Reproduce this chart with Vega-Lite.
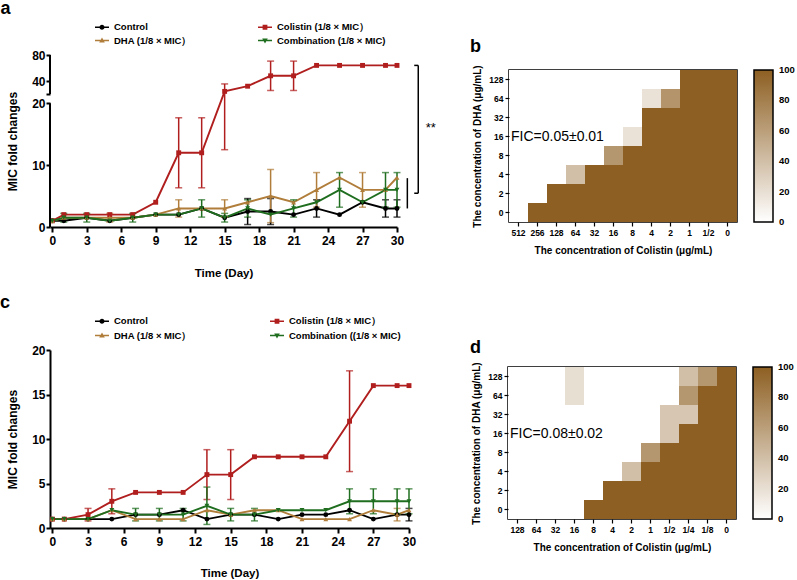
{
"$schema":"https://vega.github.io/schema/vega-lite/v6.json",
"background":"white",
"padding":{"left":0,"top":0,"right":0,"bottom":0},
"spacing":15,
"config":{
 "font":"Liberation Sans",
 "view":{"stroke":null},
 "axis":{"labelFontWeight":"bold","titleFontWeight":"bold","labelColor":"black","titleColor":"black","tickColor":"black","domainColor":"black","grid":false},
 "legend":{"labelColor":"black"},
 "title":{"fontWeight":"bold","fontSize":18,"anchor":"start","frame":"group","color":"black"}
},
"resolve":{"scale":{"color":"independent","x":"independent","y":"independent"},"legend":{"color":"independent"}},
"datasets":{
 "A":[
  {"day":0,"s":"Control","v":1,"e":0},{"day":1,"s":"Control","v":1,"e":0},{"day":3,"s":"Control","v":1.5,"e":0},{"day":5,"s":"Control","v":1,"e":0},{"day":7,"s":"Control","v":1.5,"e":0},{"day":9,"s":"Control","v":2,"e":0},{"day":11,"s":"Control","v":2,"e":0},{"day":13,"s":"Control","v":3,"e":0},{"day":15,"s":"Control","v":1.5,"e":0},{"day":17,"s":"Control","v":2.5,"e":2.1},{"day":19,"s":"Control","v":2.5,"e":2.1},{"day":21,"s":"Control","v":2,"e":0},{"day":23,"s":"Control","v":3,"e":1.4},{"day":25,"s":"Control","v":2,"e":0},{"day":27,"s":"Control","v":4,"e":0},{"day":29,"s":"Control","v":3,"e":1.4},{"day":30,"s":"Control","v":3,"e":1.4},
  {"day":0,"s":"DHA","v":1,"e":0},{"day":1,"s":"DHA","v":1.5,"e":0},{"day":3,"s":"DHA","v":1.5,"e":0},{"day":5,"s":"DHA","v":1.5,"e":0.7},{"day":7,"s":"DHA","v":1.5,"e":0},{"day":9,"s":"DHA","v":2,"e":0},{"day":11,"s":"DHA","v":3,"e":1.4},{"day":13,"s":"DHA","v":3,"e":0},{"day":15,"s":"DHA","v":3,"e":1.4},{"day":17,"s":"DHA","v":4,"e":0},{"day":19,"s":"DHA","v":5,"e":4.3},{"day":21,"s":"DHA","v":4,"e":0},{"day":23,"s":"DHA","v":6,"e":2.8},{"day":25,"s":"DHA","v":8,"e":0},{"day":27,"s":"DHA","v":6,"e":2.8},{"day":29,"s":"DHA","v":6,"e":0},{"day":30,"s":"DHA","v":8,"e":0},
  {"day":0,"s":"Colistin","v":1,"e":0},{"day":1,"s":"Colistin","v":2,"e":0},{"day":3,"s":"Colistin","v":2,"e":0},{"day":5,"s":"Colistin","v":2,"e":0},{"day":7,"s":"Colistin","v":2,"e":0},{"day":9,"s":"Colistin","v":4,"e":0},{"day":11,"s":"Colistin","v":12,"e":5.66},{"day":13,"s":"Colistin","v":12,"e":5.66},{"day":15,"s":"Colistin","v":24,"e":11.5},{"day":17,"s":"Colistin","v":32,"e":0},{"day":19,"s":"Colistin","v":48,"e":22.6},{"day":21,"s":"Colistin","v":48,"e":22.6},{"day":23,"s":"Colistin","v":64,"e":0},{"day":25,"s":"Colistin","v":64,"e":0},{"day":27,"s":"Colistin","v":64,"e":0},{"day":29,"s":"Colistin","v":64,"e":0},{"day":30,"s":"Colistin","v":64,"e":0},
  {"day":0,"s":"Combination","v":1,"e":0},{"day":1,"s":"Combination","v":1.5,"e":0.7},{"day":3,"s":"Combination","v":1.5,"e":0.7},{"day":5,"s":"Combination","v":1,"e":0},{"day":7,"s":"Combination","v":1.5,"e":0.7},{"day":9,"s":"Combination","v":2,"e":0},{"day":11,"s":"Combination","v":2,"e":0},{"day":13,"s":"Combination","v":3,"e":1.4},{"day":15,"s":"Combination","v":1.5,"e":0.7},{"day":17,"s":"Combination","v":3,"e":1.4},{"day":19,"s":"Combination","v":2,"e":0},{"day":21,"s":"Combination","v":3,"e":1.4},{"day":23,"s":"Combination","v":4,"e":0},{"day":25,"s":"Combination","v":6,"e":2.8},{"day":27,"s":"Combination","v":4,"e":0},{"day":29,"s":"Combination","v":6,"e":2.8},{"day":30,"s":"Combination","v":6,"e":2.8}
 ],
 "C":[
  {"day":0,"s":"Control","v":1,"e":0},{"day":1,"s":"Control","v":1,"e":0},{"day":3,"s":"Control","v":1,"e":0},{"day":5,"s":"Control","v":1,"e":0},{"day":7,"s":"Control","v":1.5,"e":0},{"day":9,"s":"Control","v":1.5,"e":0},{"day":11,"s":"Control","v":2,"e":0},{"day":13,"s":"Control","v":1,"e":0},{"day":15,"s":"Control","v":1.5,"e":0},{"day":17,"s":"Control","v":1.5,"e":0},{"day":19,"s":"Control","v":1,"e":0},{"day":21,"s":"Control","v":1.5,"e":0},{"day":23,"s":"Control","v":1.5,"e":0},{"day":25,"s":"Control","v":2,"e":0},{"day":27,"s":"Control","v":1,"e":0},{"day":29,"s":"Control","v":1.5,"e":0},{"day":30,"s":"Control","v":1.5,"e":0.7},
  {"day":0,"s":"DHA","v":1,"e":0},{"day":1,"s":"DHA","v":1,"e":0},{"day":3,"s":"DHA","v":1,"e":0},{"day":5,"s":"DHA","v":2,"e":0},{"day":7,"s":"DHA","v":1,"e":0},{"day":9,"s":"DHA","v":1,"e":0},{"day":11,"s":"DHA","v":1,"e":0},{"day":13,"s":"DHA","v":2,"e":0},{"day":15,"s":"DHA","v":1.5,"e":0},{"day":17,"s":"DHA","v":2,"e":0},{"day":19,"s":"DHA","v":2,"e":0},{"day":21,"s":"DHA","v":1,"e":0},{"day":23,"s":"DHA","v":1,"e":0},{"day":25,"s":"DHA","v":1,"e":0},{"day":27,"s":"DHA","v":2,"e":0},{"day":29,"s":"DHA","v":1.5,"e":0.7},{"day":30,"s":"DHA","v":2,"e":0},
  {"day":0,"s":"Colistin","v":1,"e":0},{"day":1,"s":"Colistin","v":1,"e":0},{"day":3,"s":"Colistin","v":1.5,"e":0.7},{"day":5,"s":"Colistin","v":3,"e":1.4},{"day":7,"s":"Colistin","v":4,"e":0},{"day":9,"s":"Colistin","v":4,"e":0},{"day":11,"s":"Colistin","v":4,"e":0},{"day":13,"s":"Colistin","v":6,"e":2.8},{"day":15,"s":"Colistin","v":6,"e":2.8},{"day":17,"s":"Colistin","v":8,"e":0},{"day":19,"s":"Colistin","v":8,"e":0},{"day":21,"s":"Colistin","v":8,"e":0},{"day":23,"s":"Colistin","v":8,"e":0},{"day":25,"s":"Colistin","v":12,"e":5.66},{"day":27,"s":"Colistin","v":16,"e":0},{"day":29,"s":"Colistin","v":16,"e":0},{"day":30,"s":"Colistin","v":16,"e":0},
  {"day":0,"s":"Combination","v":1,"e":0},{"day":1,"s":"Combination","v":1,"e":0},{"day":3,"s":"Combination","v":1,"e":0},{"day":5,"s":"Combination","v":2,"e":0},{"day":7,"s":"Combination","v":1.5,"e":0.7},{"day":9,"s":"Combination","v":1.5,"e":0.7},{"day":11,"s":"Combination","v":1.5,"e":0.7},{"day":13,"s":"Combination","v":2.5,"e":2.1},{"day":15,"s":"Combination","v":1.5,"e":0.7},{"day":17,"s":"Combination","v":1.5,"e":0.7},{"day":19,"s":"Combination","v":2,"e":0},{"day":21,"s":"Combination","v":2,"e":0},{"day":23,"s":"Combination","v":2,"e":0},{"day":25,"s":"Combination","v":3,"e":1.4},{"day":27,"s":"Combination","v":3,"e":1.4},{"day":29,"s":"Combination","v":3,"e":1.4},{"day":30,"s":"Combination","v":3,"e":1.4}
 ],
 "Aaxis":[{"day":-0.2,"v":0,"v2":20},{"day":-0.2,"v":20.001,"v2":80}],
 "Abrv":[{"day":31.85,"v":5.46,"v2":64},{"day":30.9,"v":3.0,"v2":7.9}],
 "Abrh":[{"day":31.5,"day2":31.85,"v":64},{"day":31.5,"day2":31.85,"v":5.46}],
 "Astar":[{"day":32.5,"v":16.0,"t":"**"}],
 "B":[
  {"c":"512","r":"128","val":0},{"c":"256","r":"128","val":0},{"c":"128","r":"128","val":0},{"c":"64","r":"128","val":0},{"c":"32","r":"128","val":0},{"c":"16","r":"128","val":0},{"c":"8","r":"128","val":0},{"c":"4","r":"128","val":0},{"c":"2","r":"128","val":0},{"c":"1","r":"128","val":100},{"c":"1/2","r":"128","val":100},{"c":"0","r":"128","val":100},
  {"c":"512","r":"64","val":0},{"c":"256","r":"64","val":0},{"c":"128","r":"64","val":0},{"c":"64","r":"64","val":0},{"c":"32","r":"64","val":0},{"c":"16","r":"64","val":0},{"c":"8","r":"64","val":0},{"c":"4","r":"64","val":18},{"c":"2","r":"64","val":67},{"c":"1","r":"64","val":100},{"c":"1/2","r":"64","val":100},{"c":"0","r":"64","val":100},
  {"c":"512","r":"32","val":0},{"c":"256","r":"32","val":0},{"c":"128","r":"32","val":0},{"c":"64","r":"32","val":0},{"c":"32","r":"32","val":0},{"c":"16","r":"32","val":0},{"c":"8","r":"32","val":0},{"c":"4","r":"32","val":100},{"c":"2","r":"32","val":100},{"c":"1","r":"32","val":100},{"c":"1/2","r":"32","val":100},{"c":"0","r":"32","val":100},
  {"c":"512","r":"16","val":0},{"c":"256","r":"16","val":0},{"c":"128","r":"16","val":0},{"c":"64","r":"16","val":0},{"c":"32","r":"16","val":0},{"c":"16","r":"16","val":0},{"c":"8","r":"16","val":18},{"c":"4","r":"16","val":100},{"c":"2","r":"16","val":100},{"c":"1","r":"16","val":100},{"c":"1/2","r":"16","val":100},{"c":"0","r":"16","val":100},
  {"c":"512","r":"8","val":0},{"c":"256","r":"8","val":0},{"c":"128","r":"8","val":0},{"c":"64","r":"8","val":0},{"c":"32","r":"8","val":0},{"c":"16","r":"8","val":65},{"c":"8","r":"8","val":100},{"c":"4","r":"8","val":100},{"c":"2","r":"8","val":100},{"c":"1","r":"8","val":100},{"c":"1/2","r":"8","val":100},{"c":"0","r":"8","val":100},
  {"c":"512","r":"4","val":0},{"c":"256","r":"4","val":0},{"c":"128","r":"4","val":0},{"c":"64","r":"4","val":40},{"c":"32","r":"4","val":100},{"c":"16","r":"4","val":100},{"c":"8","r":"4","val":100},{"c":"4","r":"4","val":100},{"c":"2","r":"4","val":100},{"c":"1","r":"4","val":100},{"c":"1/2","r":"4","val":100},{"c":"0","r":"4","val":100},
  {"c":"512","r":"2","val":0},{"c":"256","r":"2","val":0},{"c":"128","r":"2","val":100},{"c":"64","r":"2","val":100},{"c":"32","r":"2","val":100},{"c":"16","r":"2","val":100},{"c":"8","r":"2","val":100},{"c":"4","r":"2","val":100},{"c":"2","r":"2","val":100},{"c":"1","r":"2","val":100},{"c":"1/2","r":"2","val":100},{"c":"0","r":"2","val":100},
  {"c":"512","r":"0","val":0},{"c":"256","r":"0","val":100},{"c":"128","r":"0","val":100},{"c":"64","r":"0","val":100},{"c":"32","r":"0","val":100},{"c":"16","r":"0","val":100},{"c":"8","r":"0","val":100},{"c":"4","r":"0","val":100},{"c":"2","r":"0","val":100},{"c":"1","r":"0","val":100},{"c":"1/2","r":"0","val":100},{"c":"0","r":"0","val":100}
 ],
 "D":[
  {"c":"128","r":"128","val":0},{"c":"64","r":"128","val":0},{"c":"32","r":"128","val":0},{"c":"16","r":"128","val":20},{"c":"8","r":"128","val":0},{"c":"4","r":"128","val":0},{"c":"2","r":"128","val":0},{"c":"1","r":"128","val":0},{"c":"1/2","r":"128","val":0},{"c":"1/4","r":"128","val":40},{"c":"1/8","r":"128","val":65},{"c":"0","r":"128","val":100},
  {"c":"128","r":"64","val":0},{"c":"64","r":"64","val":0},{"c":"32","r":"64","val":0},{"c":"16","r":"64","val":20},{"c":"8","r":"64","val":0},{"c":"4","r":"64","val":0},{"c":"2","r":"64","val":0},{"c":"1","r":"64","val":0},{"c":"1/2","r":"64","val":0},{"c":"1/4","r":"64","val":65},{"c":"1/8","r":"64","val":100},{"c":"0","r":"64","val":100},
  {"c":"128","r":"32","val":0},{"c":"64","r":"32","val":0},{"c":"32","r":"32","val":0},{"c":"16","r":"32","val":0},{"c":"8","r":"32","val":0},{"c":"4","r":"32","val":0},{"c":"2","r":"32","val":0},{"c":"1","r":"32","val":0},{"c":"1/2","r":"32","val":35},{"c":"1/4","r":"32","val":35},{"c":"1/8","r":"32","val":100},{"c":"0","r":"32","val":100},
  {"c":"128","r":"16","val":0},{"c":"64","r":"16","val":0},{"c":"32","r":"16","val":0},{"c":"16","r":"16","val":0},{"c":"8","r":"16","val":0},{"c":"4","r":"16","val":0},{"c":"2","r":"16","val":0},{"c":"1","r":"16","val":0},{"c":"1/2","r":"16","val":35},{"c":"1/4","r":"16","val":100},{"c":"1/8","r":"16","val":100},{"c":"0","r":"16","val":100},
  {"c":"128","r":"8","val":0},{"c":"64","r":"8","val":0},{"c":"32","r":"8","val":0},{"c":"16","r":"8","val":0},{"c":"8","r":"8","val":0},{"c":"4","r":"8","val":0},{"c":"2","r":"8","val":0},{"c":"1","r":"8","val":65},{"c":"1/2","r":"8","val":100},{"c":"1/4","r":"8","val":100},{"c":"1/8","r":"8","val":100},{"c":"0","r":"8","val":100},
  {"c":"128","r":"4","val":0},{"c":"64","r":"4","val":0},{"c":"32","r":"4","val":0},{"c":"16","r":"4","val":0},{"c":"8","r":"4","val":0},{"c":"4","r":"4","val":0},{"c":"2","r":"4","val":40},{"c":"1","r":"4","val":100},{"c":"1/2","r":"4","val":100},{"c":"1/4","r":"4","val":100},{"c":"1/8","r":"4","val":100},{"c":"0","r":"4","val":100},
  {"c":"128","r":"2","val":0},{"c":"64","r":"2","val":0},{"c":"32","r":"2","val":0},{"c":"16","r":"2","val":0},{"c":"8","r":"2","val":0},{"c":"4","r":"2","val":100},{"c":"2","r":"2","val":100},{"c":"1","r":"2","val":100},{"c":"1/2","r":"2","val":100},{"c":"1/4","r":"2","val":100},{"c":"1/8","r":"2","val":100},{"c":"0","r":"2","val":100},
  {"c":"128","r":"0","val":0},{"c":"64","r":"0","val":0},{"c":"32","r":"0","val":0},{"c":"16","r":"0","val":0},{"c":"8","r":"0","val":100},{"c":"4","r":"0","val":100},{"c":"2","r":"0","val":100},{"c":"1","r":"0","val":100},{"c":"1/2","r":"0","val":100},{"c":"1/4","r":"0","val":100},{"c":"1/8","r":"0","val":100},{"c":"0","r":"0","val":100}
 ]
},
"vconcat":[
 {
  "hconcat":[
   {
    "title":{"text":"a","dx":-49.5,"offset":2},
    "width":347,"height":182,
    "encoding":{
     "x":{"field":"day","type":"quantitative","scale":{"domain":[-0.2,30],"nice":false,"zero":false},"axis":{"values":[0,3,6,9,12,15,18,21,24,27,30],"offset":-10,"title":"Time (Day)","titleFontSize":11.5,"labelFontSize":12,"tickSize":5,"tickWidth":2,"domainWidth":2,"labelPadding":3,"titlePadding":21,"labelFlush":false,"labelAngle":0}},
     "y":{"field":"v","type":"quantitative","scale":{"domain":[0,20,20.001,80],"range":[172,48.3,39,0],"nice":false,"zero":false},"axis":{"values":[0,10,20,20.001,40,80],"labelExpr":"datum.value > 20 && datum.value < 21 ? '' : datum.label","title":"MIC fold changes","titleFontSize":12,"labelFontSize":12,"tickSize":4,"tickWidth":2,"labelPadding":1,"titlePadding":12,"domain":false}}
    },
    "layer":[
     {"data":{"name":"A"},"mark":{"type":"line","strokeWidth":1.9},
      "encoding":{"color":{"field":"s","type":"nominal","scale":{"domain":["Control","Colistin","DHA","Combination"],"range":["#000000","#b01e1e","#b07d3a","#1f6e1f"]},
       "legend":{"orient":"none","direction":"horizontal","legendX":45,"legendY":-35,"columns":2,"columnPadding":66,"rowPadding":1.5,"title":null,"symbolSize":196,"labelFontSize":9.5,"labelFontWeight":"bold","labelOffset":5,"labelLimit":300,"padding":0,
        "labelExpr":"datum.value === 'Colistin' ? 'Colistin (1/8 × MIC）' : datum.value === 'DHA' ? 'DHA (1/8 × MIC）' : datum.value === 'Combination' ? 'Combination (1/8 × MIC)' : datum.label",
        "encode":{"symbols":{"update":{
         "shape":{"signal":"datum.value === 'Control' ? 'M-1,-0.12H1V0.12H-1Z M0.36,0A0.36,0.36 0 1,1 -0.36,0A0.36,0.36 0 1,1 0.36,0Z' : datum.value === 'Colistin' ? 'M-1,-0.12H1V0.12H-1Z M-0.34,-0.34H0.34V0.34H-0.34Z' : datum.value === 'DHA' ? 'M-1,-0.12H1V0.12H-1Z M0,-0.42L0.4,0.3L-0.4,0.3Z' : 'M-1,-0.12H1V0.12H-1Z M0,0.42L-0.4,-0.3L0.4,-0.3Z'"},
         "fill":{"signal":"datum.value === 'Control' ? '#000000' : datum.value === 'Colistin' ? '#b01e1e' : datum.value === 'DHA' ? '#b07d3a' : '#1f6e1f'"},
         "stroke":{"value":"transparent"},"strokeWidth":{"value":0},"opacity":{"value":1}}}}}}}},
     {"data":{"name":"A"},"transform":[{"filter":"datum.e > 0"}],"mark":{"type":"errorbar","ticks":{"size":7},"thickness":1.5},
      "encoding":{"yError":{"field":"e"},"color":{"field":"s","type":"nominal","scale":{"domain":["Control","Colistin","DHA","Combination"],"range":["#000000","#b01e1e","#b07d3a","#1f6e1f"]}}}},
     {"data":{"name":"A"},"transform":[{"filter":"datum.s === 'Control'"}],"mark":{"type":"point","shape":"circle","filled":true,"size":24,"opacity":1,"strokeWidth":0,"color":"#000000"}},
     {"data":{"name":"A"},"transform":[{"filter":"datum.s === 'Colistin'"}],"mark":{"type":"point","shape":"square","filled":true,"size":24,"opacity":1,"strokeWidth":0,"color":"#b01e1e"}},
     {"data":{"name":"A"},"transform":[{"filter":"datum.s === 'DHA'"}],"mark":{"type":"point","shape":"triangle-up","filled":true,"size":24,"opacity":1,"strokeWidth":0,"color":"#b07d3a"}},
     {"data":{"name":"A"},"transform":[{"filter":"datum.s === 'Combination'"}],"mark":{"type":"point","shape":"triangle-down","filled":true,"size":24,"opacity":1,"strokeWidth":0,"color":"#1f6e1f"}},
     {"data":{"name":"Aaxis"},"mark":{"type":"rule","color":"black","strokeWidth":2},"encoding":{"y2":{"field":"v2"}}},
     {"data":{"name":"Abrv"},"mark":{"type":"rule","color":"black","strokeWidth":1.5},"encoding":{"y2":{"field":"v2"}}},
     {"data":{"name":"Abrh"},"mark":{"type":"rule","color":"black","strokeWidth":1.5},"encoding":{"x2":{"field":"day2"}}},
     {"data":{"name":"Astar"},"mark":{"type":"text","fontSize":13,"align":"left","baseline":"middle","color":"black"},"encoding":{"text":{"field":"t"}}}
    ]
   },
   {
    "title":{"text":"b","dx":-39,"offset":9},
    "width":228,"height":152,
    "view":{"stroke":"black","strokeWidth":1.5},
    "encoding":{
     "x":{"field":"c","type":"ordinal","scale":{"domain":["512","256","128","64","32","16","8","4","2","1","1/2","0"],"paddingInner":0,"paddingOuter":0},"axis":{"title":"The concentration of Colistin (μg/mL)","titleFontSize":10,"labelFontSize":8.5,"tickSize":4,"tickWidth":1.2,"domain":false,"labelPadding":2,"titlePadding":8.5,"labelAngle":0}},
     "y":{"field":"r","type":"ordinal","scale":{"domain":["128","64","32","16","8","4","2","0"],"paddingInner":0,"paddingOuter":0},"axis":{"title":"The concentration of DHA (μg/mL)","titleFontSize":10,"labelFontSize":8.5,"tickSize":4,"tickWidth":1.2,"domain":false,"labelPadding":2,"titlePadding":6}}
    },
    "layer":[
     {"data":{"name":"B"},"mark":{"type":"rect"},
      "encoding":{
       "color":{"field":"val","type":"quantitative","scale":{"domain":[0,100],"range":["#ffffff","#8d5f22"],"interpolate":"rgb"},
        "legend":{"type":"gradient","title":null,"orient":"right","offset":17,"direction":"vertical","gradientLength":152,"gradientThickness":19,"gradientStrokeColor":"black","gradientStrokeWidth":1.5,"labelFontSize":9.5,"labelFontWeight":"bold","labelOffset":6,"values":[0,20,40,60,80,100],"padding":0,"encode":{"labels":{"update":{"baseline":{"value":"middle"}}}}}}
      }},
     {"data":{"name":"B"},"mark":{"type":"rect"},
      "encoding":{
       "color":{"field":"val","type":"quantitative","scale":{"domain":[0,100],"range":["#ffffff","#8d5f22"],"interpolate":"rgb"}}
      }},
     {"data":{"values":[{"c":"512","r":"16","t":"FIC=0.05±0.01"}]},"mark":{"type":"text","align":"left","baseline":"middle","fontSize":14,"fontWeight":"normal","dx":2,"color":"black"},
      "encoding":{
       "x":{"field":"c","type":"ordinal","bandPosition":0,"scale":{"domain":["512","256","128","64","32","16","8","4","2","1","1/2","0"],"paddingInner":0,"paddingOuter":0}},
       "text":{"field":"t"}}}
    ]
   }
  ],
  "spacing":112,
  "bounds":"flush",
  "center":true,
  "resolve":{"scale":{"color":"independent","x":"independent","y":"independent"},"legend":{"color":"independent"}}
 },
 {
  "hconcat":[
   {
    "title":{"text":"c","dx":-50,"offset":2},
    "width":359,"height":186,
    "encoding":{
     "x":{"field":"day","type":"quantitative","scale":{"domain":[-0.2,30],"nice":false,"zero":false},"axis":{"values":[0,3,6,9,12,15,18,21,24,27,30],"offset":-8,"title":"Time (Day)","titleFontSize":11.5,"labelFontSize":12,"tickSize":5,"tickWidth":2,"domainWidth":2,"labelPadding":3,"titlePadding":20,"labelFlush":false,"labelAngle":0}},
     "y":{"field":"v","type":"quantitative","scale":{"domain":[0,20],"range":[178,0],"nice":false,"zero":false},"axis":{"values":[0,5,10,15,20],"title":"MIC fold changes","titleFontSize":12,"labelFontSize":12,"tickSize":4,"tickWidth":2,"domainWidth":2,"labelPadding":1,"titlePadding":12}}
    },
    "layer":[
     {"data":{"name":"C"},"mark":{"type":"line","strokeWidth":1.9},
      "encoding":{"color":{"field":"s","type":"nominal","scale":{"domain":["Control","Colistin","DHA","Combination"],"range":["#000000","#b01e1e","#b07d3a","#1f6e1f"]},
       "legend":{"orient":"none","direction":"horizontal","legendX":45,"legendY":-36,"columns":2,"columnPadding":78,"rowPadding":2.5,"title":null,"symbolSize":196,"labelFontSize":9.5,"labelFontWeight":"bold","labelOffset":5,"labelLimit":300,"padding":0,
        "labelExpr":"datum.value === 'Colistin' ? 'Colistin (1/8 × MIC）' : datum.value === 'DHA' ? 'DHA (1/8 × MIC）' : datum.value === 'Combination' ? 'Combination ((1/8 × MIC)' : datum.label",
        "encode":{"symbols":{"update":{
         "shape":{"signal":"datum.value === 'Control' ? 'M-1,-0.12H1V0.12H-1Z M0.36,0A0.36,0.36 0 1,1 -0.36,0A0.36,0.36 0 1,1 0.36,0Z' : datum.value === 'Colistin' ? 'M-1,-0.12H1V0.12H-1Z M-0.34,-0.34H0.34V0.34H-0.34Z' : datum.value === 'DHA' ? 'M-1,-0.12H1V0.12H-1Z M0,-0.42L0.4,0.3L-0.4,0.3Z' : 'M-1,-0.12H1V0.12H-1Z M0,0.42L-0.4,-0.3L0.4,-0.3Z'"},
         "fill":{"signal":"datum.value === 'Control' ? '#000000' : datum.value === 'Colistin' ? '#b01e1e' : datum.value === 'DHA' ? '#b07d3a' : '#1f6e1f'"},
         "stroke":{"value":"transparent"},"strokeWidth":{"value":0},"opacity":{"value":1}}}}}}}},
     {"data":{"name":"C"},"transform":[{"filter":"datum.e > 0"}],"mark":{"type":"errorbar","ticks":{"size":7},"thickness":1.5},
      "encoding":{"yError":{"field":"e"},"color":{"field":"s","type":"nominal","scale":{"domain":["Control","Colistin","DHA","Combination"],"range":["#000000","#b01e1e","#b07d3a","#1f6e1f"]}}}},
     {"data":{"name":"C"},"transform":[{"filter":"datum.s === 'Control'"}],"mark":{"type":"point","shape":"circle","filled":true,"size":24,"opacity":1,"strokeWidth":0,"color":"#000000"}},
     {"data":{"name":"C"},"transform":[{"filter":"datum.s === 'Colistin'"}],"mark":{"type":"point","shape":"square","filled":true,"size":24,"opacity":1,"strokeWidth":0,"color":"#b01e1e"}},
     {"data":{"name":"C"},"transform":[{"filter":"datum.s === 'DHA'"}],"mark":{"type":"point","shape":"triangle-up","filled":true,"size":24,"opacity":1,"strokeWidth":0,"color":"#b07d3a"}},
     {"data":{"name":"C"},"transform":[{"filter":"datum.s === 'Combination'"}],"mark":{"type":"point","shape":"triangle-down","filled":true,"size":24,"opacity":1,"strokeWidth":0,"color":"#1f6e1f"}}
    ]
   },
   {
    "title":{"text":"d","dx":-38,"offset":5},
    "width":228,"height":152,
    "view":{"stroke":"black","strokeWidth":1.5},
    "encoding":{
     "x":{"field":"c","type":"ordinal","scale":{"domain":["128","64","32","16","8","4","2","1","1/2","1/4","1/8","0"],"paddingInner":0,"paddingOuter":0},"axis":{"title":"The concentration of Colistin (μg/mL)","titleFontSize":10,"labelFontSize":8.5,"tickSize":4,"tickWidth":1.2,"domain":false,"labelPadding":2,"titlePadding":8.5,"labelAngle":0}},
     "y":{"field":"r","type":"ordinal","scale":{"domain":["128","64","32","16","8","4","2","0"],"paddingInner":0,"paddingOuter":0},"axis":{"title":"The concentration of DHA (μg/mL)","titleFontSize":10,"labelFontSize":8.5,"tickSize":4,"tickWidth":1.2,"domain":false,"labelPadding":2,"titlePadding":6}}
    },
    "layer":[
     {"data":{"name":"D"},"mark":{"type":"rect"},
      "encoding":{
       "color":{"field":"val","type":"quantitative","scale":{"domain":[0,100],"range":["#ffffff","#8d5f22"],"interpolate":"rgb"},
        "legend":{"type":"gradient","title":null,"orient":"right","offset":17,"direction":"vertical","gradientLength":152,"gradientThickness":19,"gradientStrokeColor":"black","gradientStrokeWidth":1.5,"labelFontSize":9.5,"labelFontWeight":"bold","labelOffset":6,"values":[0,20,40,60,80,100],"padding":0,"encode":{"labels":{"update":{"baseline":{"value":"middle"}}}}}}
      }},
     {"data":{"name":"D"},"mark":{"type":"rect"},
      "encoding":{
       "color":{"field":"val","type":"quantitative","scale":{"domain":[0,100],"range":["#ffffff","#8d5f22"],"interpolate":"rgb"}}
      }},
     {"data":{"values":[{"c":"128","r":"16","t":"FIC=0.08±0.02"}]},"mark":{"type":"text","align":"left","baseline":"middle","fontSize":14,"fontWeight":"normal","dx":2,"color":"black"},
      "encoding":{
       "x":{"field":"c","type":"ordinal","bandPosition":0,"scale":{"domain":["128","64","32","16","8","4","2","1","1/2","1/4","1/8","0"],"paddingInner":0,"paddingOuter":0}},
       "text":{"field":"t"}}}
    ]
   }
  ],
  "spacing":99,
  "bounds":"flush",
  "center":true,
  "resolve":{"scale":{"color":"independent","x":"independent","y":"independent"},"legend":{"color":"independent"}}
 }
]
}
